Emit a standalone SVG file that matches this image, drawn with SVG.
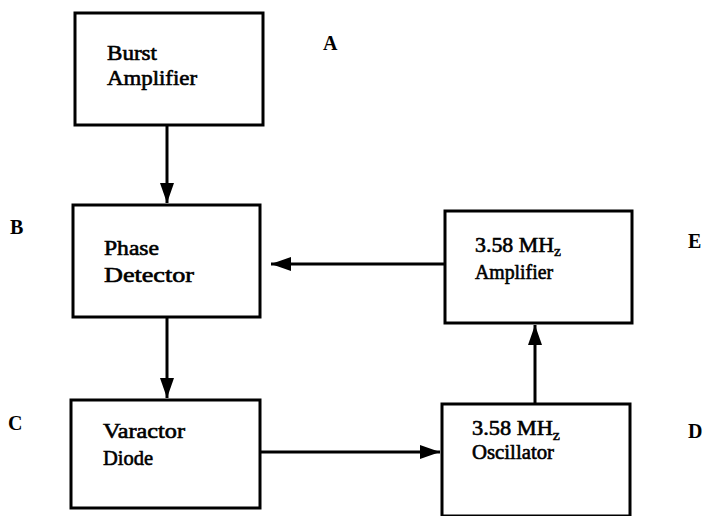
<svg xmlns="http://www.w3.org/2000/svg" width="707" height="516" viewBox="0 0 707 516">
<style>
.box{fill:#fff;stroke:#000;stroke-width:3}
.t{font-family:"Liberation Serif","Times New Roman",serif;font-size:21px;fill:#000;stroke:#000;stroke-width:0.6}
.s{font-size:15px;stroke-width:0.5}
.lbl{font-family:"Liberation Serif","Times New Roman",serif;font-size:20px;font-weight:bold;fill:#000}
.c{stroke:#000;stroke-width:3;fill:none;marker-end:url(#ah)}
</style>
<defs>
<marker id="ah" markerUnits="userSpaceOnUse" markerWidth="22" markerHeight="16" refX="20" refY="7" orient="auto">
<path d="M0,0 L20,7 L0,14 Z" fill="#000"/>
</marker>
</defs>
<rect width="707" height="516" fill="#fff"/>
<g id="connectors">
<line class="c" x1="167" y1="126" x2="167" y2="203"/>
<line class="c" x1="167" y1="318" x2="167" y2="398"/>
<line class="c" x1="445" y1="264" x2="271" y2="264"/>
<line class="c" x1="260" y1="452" x2="440" y2="452"/>
<line class="c" x1="535" y1="404" x2="535" y2="325"/>
</g>
<g id="nodeA">
<rect class="box" x="75" y="13" width="188" height="112"/>
<text class="t" x="107" y="60" textLength="50" lengthAdjust="spacingAndGlyphs">Burst</text>
<text class="t" x="107" y="85" textLength="90" lengthAdjust="spacingAndGlyphs">Amplifier</text>
<text class="lbl" x="323" y="50">A</text>
</g>
<g id="nodeB">
<rect class="box" x="73" y="205" width="187" height="112"/>
<text class="t" x="104" y="255" textLength="55" lengthAdjust="spacingAndGlyphs">Phase</text>
<text class="t" x="104" y="282" textLength="90" lengthAdjust="spacingAndGlyphs">Detector</text>
<text class="lbl" x="10" y="234">B</text>
</g>
<g id="nodeE">
<rect class="box" x="445" y="211" width="187" height="112"/>
<text class="t" x="475" y="252" textLength="86" lengthAdjust="spacingAndGlyphs">3.58 MH<tspan class="s" dy="4">z</tspan></text>
<text class="t" x="475" y="279" textLength="78" lengthAdjust="spacingAndGlyphs">Amplifier</text>
<text class="lbl" x="688" y="248">E</text>
</g>
<g id="nodeC">
<rect class="box" x="71" y="400" width="189" height="108"/>
<text class="t" x="103" y="438" textLength="82" lengthAdjust="spacingAndGlyphs">Varactor</text>
<text class="t" x="103" y="465" textLength="50" lengthAdjust="spacingAndGlyphs">Diode</text>
<text class="lbl" x="8" y="430">C</text>
</g>
<g id="nodeD">
<rect class="box" x="442" y="404" width="188" height="112"/>
<text class="t" x="472" y="435" textLength="88" lengthAdjust="spacingAndGlyphs">3.58 MH<tspan class="s" dy="5">z</tspan></text>
<text class="t" x="472" y="459" textLength="82" lengthAdjust="spacingAndGlyphs">Oscillator</text>
<text class="lbl" x="688" y="438">D</text>
</g>
</svg>
